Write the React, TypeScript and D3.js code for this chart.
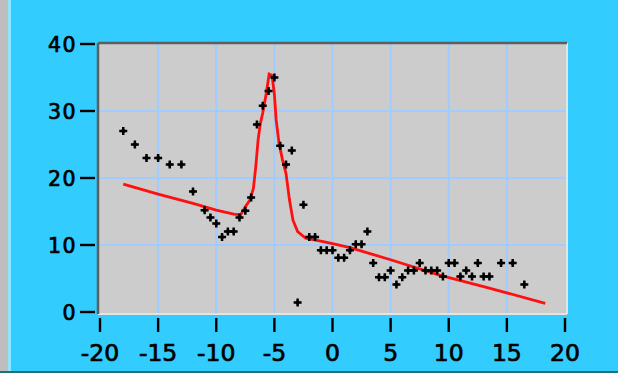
import React, { useEffect } from "react";
import * as d3 from "d3";

const xTicks = [-20, -15, -10, -5, 0, 5, 10, 15, 20];
const yTicks = [0, 10, 20, 30, 40];
const gridX = [-15, -10, -5, 0, 5, 10, 15];
const gridY = [10, 20, 30];

const pointX = [-18, -17, -16, -15, -14, -13, -12, -11, -10.5, -10, -9.5, -9, -8.5, -8, -7.5, -7, -6.5, -6, -5.5, -5, -4.5, -4, -3.5, -3, -2.5, -2, -1.5, -1, -0.5, 0, 0.5, 1, 1.5, 2, 2.5, 3, 3.5, 4, 4.5, 5, 5.5, 6, 6.5, 7, 7.5, 8, 8.5, 9, 9.5, 10, 10.5, 11, 11.5, 12, 12.5, 13, 13.5, 14.5, 15.5, 16.5];
const pointY = [27, 25, 23, 23, 22, 22, 18, 15.2, 14.1, 13.2, 11.2, 12, 12, 14.1, 15.1, 17.1, 28, 30.8, 33, 35, 24.8, 22, 24.1, 1.4, 16, 11.2, 11.2, 9.2, 9.2, 9.2, 8.1, 8.1, 9.2, 10.1, 10.1, 12, 7.3, 5.2, 5.2, 6.2, 4.1, 5.2, 6.2, 6.2, 7.3, 6.2, 6.2, 6.2, 5.3, 7.3, 7.3, 5.3, 6.2, 5.3, 7.3, 5.3, 5.3, 7.3, 7.3, 4.1];

const fitX = [-18, -15, -12, -10, -8.5, -7.9, -7.5, -7.1, -6.8, -6.6, -6.4, -6.2, -6.0, -5.7, -5.45, -5.2, -5.0, -4.85, -4.6, -4.3, -4.0, -3.7, -3.4, -3.0, -2.3, -0.8, 0.3, 1.5, 5, 9.2, 13, 18.3];
const fitY = [19.1, 17.6, 16.2, 15.2, 14.6, 14.5, 15.7, 16.7, 18.5, 21.7, 25.7, 28.2, 29.7, 32.6, 35.5, 35.3, 32.5, 28.7, 25.2, 22.7, 20.7, 16.7, 13.7, 12.0, 11.0, 10.5, 10.1, 9.6, 7.8, 5.5, 3.8, 1.3];

export default function App() {
  useEffect(() => {
    document.body.style.margin = "0";
  }, []);
  const W = 618, H = 373;
  const x = d3.scaleLinear().domain([-20, 20]).range([100, 565]);
  const y = d3.scaleLinear().domain([0, 40]).range([312, 44]);
  const line = d3.line<number>().x((_, i) => x(fitX[i])).y((_, i) => y(fitY[i]));
  const fitPath = line(fitX) || "";
  const left = 98, right = 567, top = 43, bottom = 314;
  return (
    <svg width={W} height={H} style={{ position: "fixed", left: 0, top: 0, display: "block" }}>
      <rect x={0} y={0} width={W} height={H} fill="#33CCFF" />
      <rect x={0} y={0} width={8} height={H} fill="#BEBEBE" />
      <rect x={8} y={0} width={3} height={H} fill="#8FE6FF" />
      <rect x={0} y={H - 2} width={W} height={2} fill="#1F6E78" />
      <rect x={left} y={top} width={right - left} height={bottom - top} fill="#CCCCCC" />
      {gridX.map((v) => (
        <line key={"gx" + v} x1={x(v)} x2={x(v)} y1={top} y2={bottom} stroke="#A0CCFF" strokeWidth={2} />
      ))}
      {gridY.map((v) => (
        <line key={"gy" + v} x1={left} x2={right} y1={y(v)} y2={y(v)} stroke="#A0CCFF" strokeWidth={2} />
      ))}
      <line x1={left} x2={right} y1={bottom} y2={bottom} stroke="#E4E4E4" strokeWidth={2} />
      <line x1={right} x2={right} y1={top} y2={bottom} stroke="#E4E4E4" strokeWidth={2} />
      <line x1={left} x2={right} y1={top} y2={top} stroke="#5E5E5E" strokeWidth={2.5} />
      <line x1={left} x2={left} y1={top} y2={bottom} stroke="#5E5E5E" strokeWidth={2.5} />
      <path d={fitPath} fill="none" stroke="#FF1010" strokeWidth={2.8} strokeLinejoin="miter" />
      {pointX.map((v, i) => {
        const cx = x(v), cy = y(pointY[i]);
        return (
          <g key={"p" + i}>
            <path d={`M${cx - 4},${cy}H${cx + 4}M${cx},${cy - 4}V${cy + 4}`} stroke="#000" strokeWidth={2.5} />
            <rect x={cx - 2} y={cy - 2} width={4} height={4} fill="#000" transform={`rotate(45 ${cx} ${cy})`} />
          </g>
        );
      })}
      {yTicks.map((v) => (
        <g key={"yt" + v}>
          <line x1={80} x2={95} y1={y(v)} y2={y(v)} stroke="#000" strokeWidth={2.4} />
          <text x={77} y={y(v) + 8} textAnchor="end" fontFamily="DejaVu Sans" fontSize={20.5} letterSpacing={1.5} fill="#000" stroke="#000" strokeWidth={0.7}>
            {String(v)}
          </text>
        </g>
      ))}
      {xTicks.map((v) => (
        <g key={"xt" + v}>
          <line x1={x(v)} x2={x(v)} y1={318} y2={332} stroke="#000" strokeWidth={2.4} />
          <text x={x(v)} y={361} textAnchor="middle" fontFamily="DejaVu Sans" fontSize={23.5} fill="#000" stroke="#000" strokeWidth={0.7}>
            {String(v)}
          </text>
        </g>
      ))}
    </svg>
  );
}
